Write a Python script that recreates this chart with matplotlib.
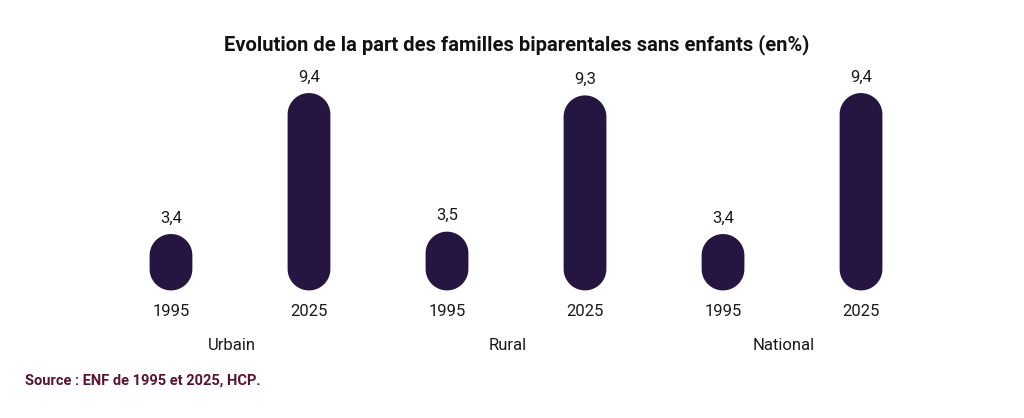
import matplotlib
matplotlib.use("Agg")
import numpy as np
import matplotlib.pyplot as plt
from matplotlib.patches import Polygon
from matplotlib import font_manager as fm

groups = ["Urbain", "Rural", "National"]
years = ["1995", "2025"]
values_1995 = [3.4, 3.5, 3.4]
values_2025 = [9.4, 9.3, 9.4]
title = "Evolution de la part des familles biparentales sans enfants (en%)"
source = "Source : ENF de 1995 et 2025, HCP."

names = {f.name for f in fm.fontManager.ttflist}
fam = [n for n in ["Liberation Sans Narrow", "DejaVu Sans Condensed", "Roboto", "DejaVu Sans"] if n in names]
plt.rcParams['font.family'] = fam + ["DejaVu Sans"]

BAR_COLOR = "#241640"
BASE = 1.0

fig = plt.figure(figsize=(10.24, 4.18), dpi=100)
ax = fig.add_axes([0, 0, 1, 1])
ax.set_xlim(-1.239, 6.181)
ax.set_ylim(-4.43, 13.36)
ax.axis("off")

pos, vals, labs = [], [], []
for g in range(len(groups)):
    for k, vs in enumerate([values_1995, values_2025]):
        pos.append(g * 2 + k)
        vals.append(vs[g])
        labs.append(years[k])

width = 0.31
fig.canvas.draw()
p0 = ax.transData.transform((0, 0))
p1 = ax.transData.transform((1, 1))
px_x = p1[0] - p0[0]
px_y = p1[1] - p0[1]
rx = width / 2
ry = rx * px_x / px_y  # end-cap radius in y data units

t_top = np.linspace(0, np.pi, 60)
t_bot = np.linspace(np.pi, 2 * np.pi, 60)


def pill(x, y0, y1):
    top = np.column_stack([x + rx * np.cos(t_top), (y1 - ry) + ry * np.sin(t_top)])
    bot = np.column_stack([x + rx * np.cos(t_bot), (y0 + ry) + ry * np.sin(t_bot)])
    return Polygon(np.vstack([top, bot]), closed=True, facecolor=BAR_COLOR,
                   edgecolor="none", antialiased=True)


for x, v, lab in zip(pos, vals, labs):
    ax.add_patch(pill(x, BASE, v))
    ax.text(x, v + 0.68, f"{v:.1f}".replace(".", ","), ha="center", va="center",
            fontsize=12, color="#1a1a1a")
    ax.text(x, BASE - 0.88, lab, ha="center", va="center", fontsize=12, color="#1a1a1a")

for g, name in enumerate(groups):
    ax.text(g * 2 + 0.44, BASE - 2.33, name, ha="center", va="center",
            fontsize=12, color="#1a1a1a")

fig.text(0.505, 1 - 45 / 418, title, ha="center", va="center", fontsize=14.5,
         fontweight="bold", color="#111111")
fig.text(25 / 1024, 1 - 381 / 418, source, ha="left", va="center", fontsize=10.5,
         fontweight="bold", color="#5c1232")

fig.savefig("out.png", dpi=100, facecolor="white")
